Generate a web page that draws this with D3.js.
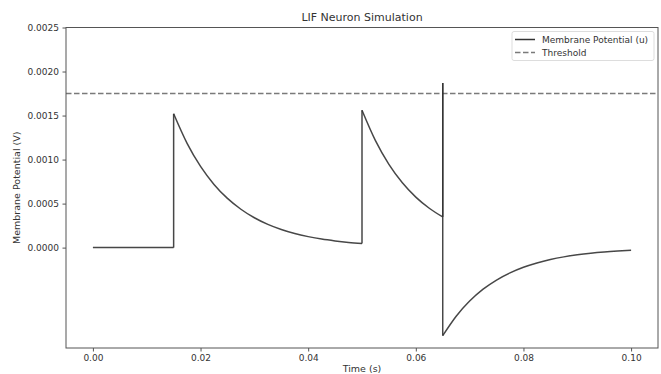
<!DOCTYPE html>
<html><head><meta charset="utf-8">
<script src="https://cdn.jsdelivr.net/npm/d3@7"></script>
<style>body{margin:0;background:#fff}svg{display:block}text{font-family:"DejaVu Sans",sans-serif;fill:#333}</style>
</head><body><svg id="c" width="661" height="374"></svg>
<script>
// Time (s) and membrane potential (V); repeated times mark instantaneous jumps
const timeValues = [0, 0.015,
  0.015, 0.0175, 0.02, 0.0225, 0.025, 0.0275, 0.03, 0.0325, 0.035, 0.0375, 0.04, 0.0425, 0.045, 0.0475, 0.05,
  0.05, 0.0525, 0.055, 0.0575, 0.06, 0.0625, 0.065,
  0.065, 0.065,
  0.0675, 0.07, 0.0725, 0.075, 0.0775, 0.08, 0.0825, 0.085, 0.0875, 0.09, 0.0925, 0.095, 0.0975, 0.1];
const potentialValues = [0, 0,
  0.00152, 0.001184, 0.000922, 0.000718, 0.000559, 0.000436, 0.000339, 0.000264, 0.000206, 0.000160, 0.000125, 0.000097, 0.000076, 0.000059, 0.000046,
  0.00156, 0.001215, 0.000946, 0.000737, 0.000574, 0.000447, 0.000348,
  0.00187, -0.001,
  -0.000779, -0.000607, -0.000472, -0.000368, -0.000287, -0.000223, -0.000174, -0.000135, -0.000105, -0.000082, -0.000064, -0.000050, -0.000039, -0.000030];
const thresholdValue = 0.00175;
const xTickValues = [0, 0.02, 0.04, 0.06, 0.08, 0.10];
const yTickValues = [0, 0.0005, 0.0010, 0.0015, 0.0020, 0.0025];
const legendLabels = ["Membrane Potential (u)", "Threshold"];

const svg = d3.select("#c");
const L = 66, R = 658, T = 27.5, B = 348;
const x = d3.scaleLinear().domain([-0.005, 0.105]).range([L, R]);
const y = d3.scaleLinear().domain([-0.00114, 0.0025]).range([B, T]);

// threshold
svg.append("line").attr("x1", L).attr("x2", R)
  .attr("y1", y(thresholdValue)).attr("y2", y(thresholdValue))
  .attr("stroke", "#7a7a7a").attr("stroke-width", 1.4).attr("stroke-dasharray", "5.5,2.5");

// membrane potential: split into continuous runs and jumps
const pts = timeValues.map((t, i) => [t, potentialValues[i]]);
const runs = [[pts[0]]];
for (let i = 1; i < pts.length; i++) {
  if (pts[i][0] === pts[i-1][0]) runs.push([pts[i]]);
  else runs[runs.length-1].push(pts[i]);
}
const smooth = d3.line().x(d => x(d[0])).y(d => y(d[1])).curve(d3.curveMonotoneX);
const straight = d3.line().x(d => x(d[0])).y(d => y(d[1]));
const g = svg.append("g").attr("fill", "none").attr("stroke", "#333").attr("stroke-width", 1.5).attr("stroke-opacity", 0.9);
runs.forEach((r, i) => {
  if (r.length > 1) g.append("path").attr("d", smooth(r));
  if (i > 0) g.append("path").attr("d", straight([runs[i-1][runs[i-1].length-1], r[0]]));
});

// axes frame
svg.append("rect").attr("x", L).attr("y", T).attr("width", R - L).attr("height", B - T)
  .attr("fill", "none").attr("stroke", "#555").attr("stroke-width", 1);

const xAxis = svg.append("g").attr("transform", `translate(0,${B})`)
  .call(d3.axisBottom(x).tickValues(xTickValues).tickSize(3.5).tickPadding(3.5).tickFormat(d3.format(".2f")));
const yAxis = svg.append("g").attr("transform", `translate(${L},0)`)
  .call(d3.axisLeft(y).tickValues(yTickValues).tickSize(3.5).tickPadding(3.5).tickFormat(d3.format(".4f")));
[xAxis, yAxis].forEach(a => {
  a.select(".domain").remove();
  a.selectAll(".tick line").attr("stroke", "#555");
  a.selectAll(".tick text").style("font-family", "DejaVu Sans").style("font-size", "9px").attr("fill", "#333");
});

// labels
svg.append("text").attr("x", (L + R) / 2).attr("y", 21).attr("text-anchor", "middle")
  .style("font-size", "11px").text("LIF Neuron Simulation");
svg.append("text").attr("x", (L + R) / 2).attr("y", 372).attr("text-anchor", "middle")
  .style("font-size", "9.5px").text("Time (s)");
svg.append("text").attr("transform", `translate(20,${(T + B) / 2}) rotate(-90)`).attr("text-anchor", "middle")
  .style("font-size", "9.5px").text("Membrane Potential (V)");

// legend
const lg = svg.append("g");
lg.append("rect").attr("x", 512).attr("y", 31.5).attr("width", 142).attr("height", 29).attr("rx", 2)
  .attr("fill", "#fff").attr("fill-opacity", 0.8).attr("stroke", "#ddd");
lg.append("line").attr("x1", 515).attr("x2", 535).attr("y1", 39.5).attr("y2", 39.5).attr("stroke", "#333").attr("stroke-width", 1.5);
lg.append("line").attr("x1", 515).attr("x2", 535).attr("y1", 52.5).attr("y2", 52.5).attr("stroke", "#7a7a7a").attr("stroke-width", 1.4).attr("stroke-dasharray", "5.5,2.5");
legendLabels.forEach((s, i) => lg.append("text").attr("x", 542).attr("y", 42.8 + i * 13.3).style("font-size", "9px").text(s));
</script></body></html>
